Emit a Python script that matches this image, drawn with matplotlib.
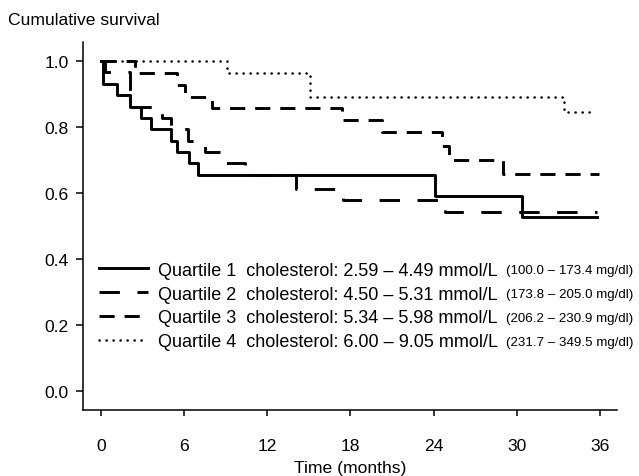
import numpy as np
import matplotlib
matplotlib.use("Agg")
import matplotlib.pyplot as plt

plt.rcParams['font.family'] = ['Liberation Sans', 'DejaVu Sans']

# Kaplan-Meier step data (months, cumulative survival)
q1_t = [0, 0.2, 1.2, 2.1, 2.9, 3.65, 5.1, 5.5, 6.4, 7.0, 24.1, 30.4, 35.8]
q1_s = [1.0, 0.931, 0.897, 0.862, 0.828, 0.793, 0.759, 0.724, 0.690, 0.655, 0.592, 0.528, 0.528]

q2_t = [0, 0.3, 2.1, 4.4, 5.1, 6.3, 7.5, 8.8, 10.4, 14.1, 17.5, 24.8, 35.8]
q2_s = [1.0, 0.966, 0.862, 0.828, 0.793, 0.759, 0.724, 0.690, 0.655, 0.612, 0.580, 0.542, 0.542]

q3_t = [0, 2.5, 5.5, 6.1, 8.0, 17.4, 20.3, 24.6, 25.1, 29.0, 35.9]
q3_s = [1.0, 0.964, 0.929, 0.893, 0.857, 0.821, 0.786, 0.742, 0.700, 0.658, 0.658]

q4_t = [0, 9.1, 15.1, 33.4, 35.5]
q4_s = [1.0, 0.964, 0.893, 0.845, 0.845]

labels = ["Quartile 1  cholesterol: 2.59 \u2013 4.49 mmol/L",
          "Quartile 2  cholesterol: 4.50 \u2013 5.31 mmol/L",
          "Quartile 3  cholesterol: 5.34 \u2013 5.98 mmol/L",
          "Quartile 4  cholesterol: 6.00 \u2013 9.05 mmol/L"]
mgdl = ["(100.0 \u2013 173.4 mg/dl)",
        "(173.8 \u2013 205.0 mg/dl)",
        "(206.2 \u2013 230.9 mg/dl)",
        "(231.7 \u2013 349.5 mg/dl)"]

xticks = [0, 6, 12, 18, 24, 30, 36]
yticks = [0.0, 0.2, 0.4, 0.6, 0.8, 1.0]

fig = plt.figure(figsize=(6.39, 4.77), dpi=100)
ax = fig.add_axes([0.1294, 0.1384, 0.8362, 0.7715])

ax.plot(q1_t, q1_s, drawstyle='steps-post', color='black', lw=2.1,
        linestyle='-', label=labels[0])
ax.plot(q2_t, q2_s, drawstyle='steps-post', color='black', lw=2.1,
        linestyle=(0, (7, 6)), label=labels[1])
ax.plot(q3_t, q3_s, drawstyle='steps-post', color='black', lw=2.1,
        linestyle=(0, (5.2, 3.4)), label=labels[2])
ax.plot(q4_t, q4_s, drawstyle='steps-post', color='black', lw=1.8,
        linestyle=(0, (0.1, 2.7)), dash_capstyle='round', label=labels[3])

ax.set_xlim(-1.3, 37.22)
ax.set_ylim(-0.0586, 1.0586)
ax.set_xticks(xticks)
ax.set_xticklabels([str(v) for v in xticks])
ax.set_yticks(yticks)
ax.set_yticklabels(["%.1f" % v for v in yticks])

for s in ['top', 'right']:
    ax.spines[s].set_visible(False)
for s in ['left', 'bottom']:
    ax.spines[s].set_linewidth(1.1)

ax.tick_params(axis='x', direction='out', length=4.5, width=1.1, pad=16, labelsize=12.6)
ax.tick_params(axis='y', direction='out', length=5, width=1.1, pad=5, labelsize=12.6)

ax.set_xlabel("Time (months)", fontsize=12.6, labelpad=5)
fig.text(0.013, 0.958, "Cumulative survival", fontsize=12.6, ha='left', va='center')

leg = ax.legend(loc='upper left', bbox_to_anchor=(0.03, 0.403), frameon=False,
                fontsize=13.0, handlelength=2.75, handletextpad=0.55,
                labelspacing=0.38, borderpad=0, borderaxespad=0)

fig.canvas.draw()
inv = fig.transFigure.inverted()
for txt, extra in zip(leg.get_texts(), mgdl):
    bb = txt.get_window_extent()
    x0, y0 = inv.transform((bb.x1 + 8, (bb.y0 + bb.y1) / 2))
    fig.text(x0, y0, extra, fontsize=9.6, ha='left', va='center')

fig.savefig("out.png", dpi=100)
